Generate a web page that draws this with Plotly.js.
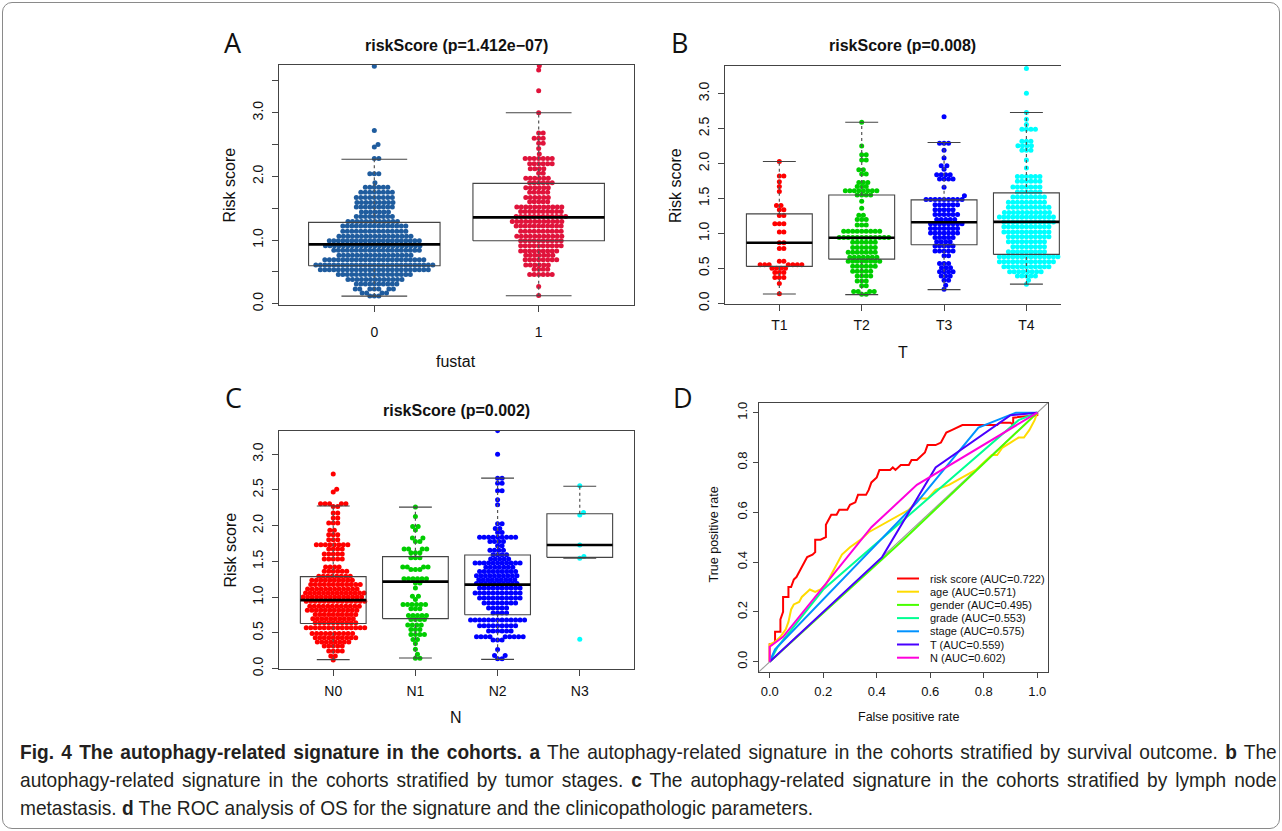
<!DOCTYPE html>
<html><head><meta charset="utf-8">
<script src="https://cdn.plot.ly/plotly-3.0.1.min.js"></script>
<style>
html,body{margin:0;padding:0;background:#fff;}
#wrap{position:relative;width:1282px;height:831px;overflow:hidden;background:#fff;}
#plot{position:absolute;left:0;top:0;width:1282px;height:831px;}
#frame{position:absolute;left:2px;top:2px;width:1278px;height:827px;border:1.2px solid #8a8a8a;border-radius:10px;box-sizing:border-box;pointer-events:none;}
#cap{position:absolute;left:20px;top:738px;font-family:'Liberation Sans',Arial,sans-serif;font-size:21px;line-height:28px;color:#231f20;}
#cap .ln{width:1381px;transform:scaleX(0.91);transform-origin:0 0;height:28px;}
#cap .j{text-align:justify;text-align-last:justify;}
</style></head>
<body><div id="wrap"><div id="plot"></div><div id="frame"></div>
<div id="cap">
<div class="ln j"><b>Fig. 4 The autophagy-related signature in the cohorts.</b> <b>a</b> The autophagy-related signature in the cohorts stratified by survival outcome. <b>b</b> The</div>
<div class="ln j">autophagy-related signature in the cohorts stratified by tumor stages. <b>c</b> The autophagy-related signature in the cohorts stratified by lymph node</div>
<div class="ln">metastasis. <b>d</b> The ROC analysis of OS for the signature and the clinicopathologic parameters.</div>
</div></div>
<script>
// ---------------- DATA ----------------
// Panel A: risk score by fustat (rows of the beeswarm: level, count)
const A_cats = ['0','1'];
const A0_lv = [3.73,2.72,2.50,2.46,2.28,2.04,1.90,1.83,1.75,1.67,1.59,1.52,1.44,1.37,1.29,1.22,1.14,1.06,0.99,0.91,0.84,0.76,0.69,0.61,0.535,0.46,0.38,0.31,0.23,0.17,0.12];
const A0_ct = [1,1,1,1,2,3,1,6,8,9,9,9,7,9,12,15,15,17,21,22,20,17,23,27,25,17,13,10,7,4,3];
const A1_lv = [3.74,3.67,3.345,3.0,2.68,2.60,2.52,2.44,2.35,2.28,2.20,2.12,2.05,1.97,1.90,1.82,1.75,1.67,1.60,1.52,1.45,1.37,1.29,1.22,1.14,1.06,0.99,0.91,0.83,0.76,0.69,0.61,0.54,0.46,0.27,0.13];
const A1_ct = [1,1,1,1,2,3,2,1,1,7,6,4,2,6,6,6,5,6,5,11,10,12,12,11,10,11,10,10,9,7,8,6,4,6,1,1];
const A_q1 = [0.597,0.99], A_med = [0.933,1.357], A_q3 = [1.278,1.89], A_lo = [0.12,0.126], A_hi = [2.27,3.0];
const A_colors = ['#1f5c9e','#e0133b'];

// Panel B: risk score by T stage
const B_cats = ['T1','T2','T3','T4'];
const T1_lv = [2.03,1.82,1.74,1.67,1.60,1.40,1.34,1.255,1.14,1.02,0.865,0.785,0.60,0.55,0.50,0.44,0.37,0.285,0.138];
const T1_ct = [1,2,1,1,1,2,2,2,3,2,2,2,2,7,4,3,3,1,1];
const T2_lv = [2.59,2.25,2.125,2.05,1.91,1.85,1.73,1.67,1.61,1.55,1.46,1.36,1.26,1.20,1.12,1.03,0.94,0.875,0.80,0.73,0.66,0.60,0.53,0.46,0.39,0.32,0.25,0.17,0.13];
const T2_ct = [1,1,2,2,2,2,3,3,8,4,1,1,2,3,3,9,12,6,6,7,7,8,6,5,4,3,2,4,2];
const T3_lv = [2.67,2.29,2.19,2.08,1.97,1.92,1.84,1.78,1.66,1.54,1.485,1.41,1.34,1.27,1.20,1.14,1.07,1.005,0.94,0.88,0.82,0.75,0.68,0.571,0.51,0.452,0.39,0.33,0.26,0.20];
const T3_ct = [1,3,1,1,2,1,4,4,1,1,9,6,5,6,5,8,7,7,5,4,5,5,2,3,3,4,3,2,1,1];
const T4_lv = [3.36,3.005,2.73,2.635,2.56,2.49,2.32,2.254,2.19,2.05,1.935,1.816,1.745,1.664,1.593,1.522,1.446,1.375,1.30,1.236,1.165,1.094,1.022,0.951,0.88,0.809,0.738,0.666,0.595,0.524,0.452,0.39,0.329,0.272];
const T4_ct = [1,1,1,1,1,4,3,4,3,1,1,6,6,7,6,8,9,10,11,13,12,11,11,10,9,8,9,14,13,11,8,5,1,1];
const B_q1 = [0.528,0.632,0.837,0.70], B_med = [0.866,0.937,1.16,1.165], B_q3 = [1.28,1.55,1.48,1.58];
const B_lo = [0.133,0.124,0.195,0.275], B_hi = [2.03,2.59,2.30,2.73];

// Panel C: risk score by N stage
const C_cats = ['N0','N1','N2','N3'];
const N0_lv = [2.725,2.51,2.47,2.306,2.27,2.176,2.107,2.037,1.935,1.874,1.805,1.735,1.674,1.605,1.535,1.423,1.363,1.293,1.237,1.176,1.116,1.06,1.004,0.944,0.874,0.818,0.757,0.697,0.641,0.571,0.492,0.432,0.372,0.316,0.246,0.176,0.12];
const N0_ct = [1,1,1,5,2,2,2,3,2,3,3,8,4,5,5,4,6,8,10,12,12,14,14,14,12,12,10,10,10,14,10,10,8,5,4,2,1];
const N1_lv = [2.26,2.13,1.99,1.94,1.827,1.78,1.674,1.62,1.55,1.423,1.386,1.256,1.20,1.13,1.014,0.967,0.898,0.837,0.744,0.688,0.609,0.549,0.479,0.409,0.353,0.27,0.20,0.144];
const N1_ct = [1,1,2,1,2,2,4,3,3,4,3,6,2,1,2,1,6,3,5,4,4,3,4,2,1,1,1,2];
const N2_lv = [3.33,3.0,2.665,2.595,2.49,2.363,2.293,2.027,1.96,1.905,1.84,1.78,1.72,1.655,1.595,1.535,1.479,1.418,1.36,1.30,1.245,1.19,1.13,1.06,0.99,0.92,0.85,0.78,0.68,0.60,0.525,0.446,0.40,0.269,0.185,0.139];
const N2_ct = [1,1,2,2,2,1,1,2,2,2,9,4,2,4,4,5,11,7,9,10,9,10,10,11,10,8,5,4,13,9,6,9,3,1,2,2];
const N3_lv = [2.558,2.185,2.15,1.73,1.57,1.545,0.41];
const N3_ct = [1,1,1,1,1,1,1];
const C_q1 = [0.632,0.70,0.753,1.557], C_med = [0.958,1.218,1.176,1.73], C_q3 = [1.288,1.567,1.59,2.167];
const C_lo = [0.126,0.149,0.13,1.545], C_hi = [2.275,2.26,2.665,2.553];
const TN_colors = ['#FF0000','#00CD00','#0000FF','#00FFFF'];

// Panel D: ROC curves
const roc_names = ['risk score (AUC=0.722)','age (AUC=0.571)','gender (AUC=0.495)','grade (AUC=0.553)','stage (AUC=0.575)','T (AUC=0.559)','N (AUC=0.602)'];
const roc_colors = ['#FF0000','#FFDB00','#49FF00','#00FF92','#0092FF','#4900FF','#FF00DB'];
const risk_fpr = [0,0,0.01,0.02,0.02,0.04,0.04,0.05,0.05,0.07,0.07,0.08,0.09,0.10,0.11,0.12,0.13,0.14,0.16,0.17,0.17,0.19,0.21,0.21,0.23,0.25,0.26,0.29,0.30,0.32,0.33,0.36,0.37,0.38,0.40,0.41,0.45,0.46,0.47,0.49,0.52,0.53,0.55,0.56,0.58,0.59,0.62,0.64,0.65,0.66,0.68,0.70,0.72,0.78,0.85,0.86,0.90,0.91,0.91,1.0,1.0];
const risk_tpr = [0,0.07,0.07,0.08,0.12,0.12,0.17,0.20,0.26,0.26,0.30,0.30,0.33,0.34,0.36,0.38,0.40,0.42,0.43,0.44,0.49,0.49,0.50,0.55,0.59,0.59,0.61,0.61,0.63,0.64,0.67,0.67,0.69,0.72,0.74,0.77,0.77,0.78,0.77,0.79,0.79,0.81,0.81,0.82,0.84,0.87,0.87,0.88,0.90,0.92,0.93,0.94,0.95,0.95,0.95,0.96,0.96,0.95,0.98,0.99,1.0];
const age_fpr = [0,0,0.02,0.04,0.06,0.07,0.08,0.09,0.11,0.12,0.14,0.15,0.17,0.19,0.21,0.24,0.27,0.30,0.34,0.37,0.42,0.47,0.52,0.56,0.59,0.62,0.67,0.72,0.77,0.80,0.83,0.85,0.87,0.90,0.93,0.95,0.97,0.99,1.0];
const age_tpr = [0,0.07,0.08,0.10,0.13,0.16,0.21,0.23,0.24,0.26,0.28,0.29,0.28,0.29,0.31,0.37,0.43,0.46,0.49,0.52,0.55,0.58,0.61,0.655,0.655,0.69,0.71,0.74,0.77,0.80,0.83,0.83,0.86,0.88,0.90,0.90,0.93,0.97,1.0];
const gender_fpr = [0,0.5,1], gender_tpr = [0,0.49,1];
const grade_fpr = [0,0.03,0.2,0.62,0.93,1], grade_tpr = [0,0.06,0.29,0.68,0.97,1];
const stage_fpr = [0,0.02,0.55,0.78,0.92,1], stage_tpr = [0,0.05,0.64,0.94,1.0,1.0];
const T_fpr = [0,0.42,0.62,0.9,1], T_tpr = [0,0.42,0.78,0.99,1];
const N_fpr = [0,0,0.05,0.38,0.55,0.8,1], N_tpr = [0,0.06,0.1,0.54,0.71,0.87,1];

// ---------------- LAYOUT HELPERS ----------------
const W = 1282, H = 831;
const PX = x => x / W, PY = y => 1 - y / H;
const FONT = 'Liberation Sans, Arial, Helvetica, sans-serif';
const G = {
  A: {l:279, r:634, t:65, b:305, xr:[0.42,2.58], yr:[-0.02,3.75]},
  B: {l:725, r:1061, t:65.7, b:304, xr:[0.34,4.42], yr:[-0.01,3.40]},
  C: {l:279, r:634, t:431, b:669, xr:[0.34,4.66], yr:[-0.005,3.325]},
  D: {l:759, r:1048, t:402.7, b:671.7, xr:[-0.04,1.04], yr:[-0.04,1.04]}
};
const MS = 5.0, DCOL = 4.5;

function expand(lv, ct) { const o = []; lv.forEach((v, i) => { for (let k = 0; k < ct[i]; k++) o.push(v); }); return o; }

function swarm(ys, pyu, d) {
  const idx = ys.map((v, i) => i).sort((a, b) => ys[a] - ys[b]);
  const placed = [], out = new Array(ys.length);
  for (const i of idx) {
    const y = ys[i] * pyu;
    const near = placed.filter(p => Math.abs(p.y - y) < d);
    const cands = [0];
    near.forEach(p => { const dx = Math.sqrt(d * d - (p.y - y) ** 2); cands.push(p.x + dx, p.x - dx); });
    cands.sort((a, b) => Math.abs(a) - Math.abs(b));
    let best = 0;
    for (const c of cands) {
      if (near.every(p => (p.x - c) ** 2 + (p.y - y) ** 2 >= d * d - 1e-6)) { best = c; break; }
    }
    placed.push({x: best, y}); out[i] = best;
  }
  return out;
}

const traces = [];
function boxPanel(xa, ya, g, groups, colors, q1, med, q3, lo, hi) {
  const pxu = (g.r - g.l) / (g.xr[1] - g.xr[0]);
  const pyu = (g.b - g.t) / (g.yr[1] - g.yr[0]);
  groups.forEach((gr, i) => {
    const ys = expand(gr[0], gr[1]);
    const off = swarm(ys, pyu, DCOL);
    traces.push({type:'scatter', mode:'markers', xaxis:xa, yaxis:ya, x: off.map(o => (i + 1) + o / pxu), y: ys,
      marker:{color:colors[i], size:MS, line:{width:0}}, hoverinfo:'skip', showlegend:false});
  });
  const rx = [], ry = [], mx = [], my = [], wx = [], wy = [], cx = [], cy = [];
  q1.forEach((_, i) => {
    const c = i + 1;
    rx.push(c-0.4, c+0.4, c+0.4, c-0.4, c-0.4, null); ry.push(q1[i], q1[i], q3[i], q3[i], q1[i], null);
    mx.push(c-0.4, c+0.4, null); my.push(med[i], med[i], null);
    wx.push(c, c, null, c, c, null); wy.push(q3[i], hi[i], null, lo[i], q1[i], null);
    cx.push(c-0.2, c+0.2, null, c-0.2, c+0.2, null); cy.push(hi[i], hi[i], null, lo[i], lo[i], null);
  });
  traces.push({type:'scatter', mode:'lines', xaxis:xa, yaxis:ya, x:wx, y:wy, line:{color:'#555', width:1.2, dash:'dot'}, hoverinfo:'skip', showlegend:false});
  traces.push({type:'scatter', mode:'lines', xaxis:xa, yaxis:ya, x:cx, y:cy, line:{color:'#444', width:1.1}, hoverinfo:'skip', showlegend:false});
  traces.push({type:'scatter', mode:'lines', xaxis:xa, yaxis:ya, x:rx, y:ry, line:{color:'#444', width:1.1}, hoverinfo:'skip', showlegend:false});
  traces.push({type:'scatter', mode:'lines', xaxis:xa, yaxis:ya, x:mx, y:my, line:{color:'#000', width:2.6}, hoverinfo:'skip', showlegend:false});
}

boxPanel('x', 'y', G.A, [[A0_lv, A0_ct], [A1_lv, A1_ct]], A_colors, A_q1, A_med, A_q3, A_lo, A_hi);
boxPanel('x2', 'y2', G.B, [[T1_lv, T1_ct], [T2_lv, T2_ct], [T3_lv, T3_ct], [T4_lv, T4_ct]], TN_colors, B_q1, B_med, B_q3, B_lo, B_hi);
boxPanel('x3', 'y3', G.C, [[N0_lv, N0_ct], [N1_lv, N1_ct], [N2_lv, N2_ct], [N3_lv, N3_ct]], TN_colors, C_q1, C_med, C_q3, C_lo, C_hi);

// ROC
traces.push({type:'scatter', mode:'lines', xaxis:'x4', yaxis:'y4', x:G.D.xr, y:G.D.yr, line:{color:'#9a9a9a', width:1.1}, hoverinfo:'skip', showlegend:false});
const rocX = [risk_fpr, age_fpr, gender_fpr, grade_fpr, stage_fpr, T_fpr, N_fpr];
const rocY = [risk_tpr, age_tpr, gender_tpr, grade_tpr, stage_tpr, T_tpr, N_tpr];
rocX.forEach((xs, i) => traces.push({type:'scatter', mode:'lines', xaxis:'x4', yaxis:'y4', x:xs, y:rocY[i], name:roc_names[i],
  line:{color:roc_colors[i], width:2, shape:'linear'}, hoverinfo:'skip', showlegend:false}));

function axis(g, isX, o) {
  const base = {
    domain: isX ? [PX(g.l), PX(g.r)] : [PY(g.b), PY(g.t)],
    range: isX ? g.xr : g.yr, showgrid:false, zeroline:false, showline:true, linecolor:'#444', linewidth:1, mirror:true,
    ticks:'outside', ticklen:6, tickwidth:1, tickcolor:'#444', tickfont:{family:FONT, size:14, color:'#111'}, fixedrange:true
  };
  return Object.assign(base, o);
}
const yt05 = [0,0.5,1,1.5,2,2.5,3];
const layout = {
  width: W, height: H, margin:{l:0, r:0, t:0, b:0}, paper_bgcolor:'rgba(0,0,0,0)', plot_bgcolor:'rgba(0,0,0,0)',
  showlegend:false,
  xaxis: axis(G.A, true, {anchor:'y', tickmode:'array', tickvals:[1,2], ticktext:A_cats, ticklabelstandoff:8}),
  yaxis: axis(G.A, false, {anchor:'x', tickmode:'array', tickvals:[0,0.5,1,1.5,2,2.5,3,3.5], ticktext:['0.0','','1.0','','2.0','','3.0',''], tickangle:-90, ticklabelstandoff:3}),
  xaxis2: axis(G.B, true, {anchor:'y2', tickmode:'array', tickvals:[1,2,3,4], ticktext:B_cats, ticklabelstandoff:2}),
  yaxis2: axis(G.B, false, {anchor:'x2', mirror:false, tickmode:'array', tickvals:yt05, ticktext:yt05.map(v => v.toFixed(1)), tickangle:-90, ticklabelstandoff:3}),
  xaxis3: axis(G.C, true, {anchor:'y3', tickmode:'array', tickvals:[1,2,3,4], ticktext:C_cats, ticklabelstandoff:3}),
  yaxis3: axis(G.C, false, {anchor:'x3', tickmode:'array', tickvals:yt05, ticktext:yt05.map(v => v.toFixed(1)), tickangle:-90, ticklabelstandoff:3}),
  xaxis4: axis(G.D, true, {anchor:'y4', tickmode:'array', tickvals:[0,0.2,0.4,0.6,0.8,1], ticktext:['0.0','0.2','0.4','0.6','0.8','1.0'], ticklen:5, tickfont:{family:FONT, size:13, color:'#111'}, ticklabelstandoff:3}),
  yaxis4: axis(G.D, false, {anchor:'x4', tickmode:'array', tickvals:[0,0.2,0.4,0.6,0.8,1], ticktext:['0.0','0.2','0.4','0.6','0.8','1.0'], ticklen:5, tickangle:-90, tickfont:{family:FONT, size:13, color:'#111'}, ticklabelstandoff:1}),
  annotations: [], shapes: []
};
function ann(text, x, y, size, o) {
  layout.annotations.push(Object.assign({text, x:PX(x), y:PY(y), xref:'paper', yref:'paper', showarrow:false, xanchor:'center', yanchor:'middle',
    font:{family:FONT, size, color:'#111'}}, o || {}));
}
// panel letters
['A','B','C','D'].forEach((L, i) => ann(L, [233,679,233,683][i], [42,42,397,397][i], 27, {font:{family:'Open Sans, DejaVu Sans, sans-serif', size:27, color:'#111'}}));
// titles
ann('<b>riskScore (p=1.412e\u221207)</b>', 456.5, 45.5, 16);
ann('<b>riskScore (p=0.008)</b>', 902.5, 45.5, 16);
ann('<b>riskScore (p=0.002)</b>', 456.5, 411, 16);
// axis titles
ann('fustat', 456.5, 361, 16);
ann('T', 902.5, 352, 16);
ann('N', 456.5, 717, 16);
ann('Risk score', 229.5, 185, 16, {textangle:-90});
ann('Risk score', 676, 185, 16, {textangle:-90});
ann('Risk score', 229.5, 550, 16, {textangle:-90});
ann('False positive rate', 908, 717, 12.5);
ann('True positive rate', 713.5, 535, 12.5, {textangle:-90});
// ROC legend (manual, compact like R)
roc_names.forEach((nm, i) => {
  const y = 578.5 + i * 13.2;
  layout.shapes.push({type:'line', xref:'paper', yref:'paper', x0:PX(897), x1:PX(919), y0:PY(y), y1:PY(y), line:{color:roc_colors[i], width:2}});
  ann(nm, 928, y, 11, {xanchor:'left'});
});

Plotly.newPlot('plot', traces, layout, {staticPlot:true, displayModeBar:false});
</script></body></html>
